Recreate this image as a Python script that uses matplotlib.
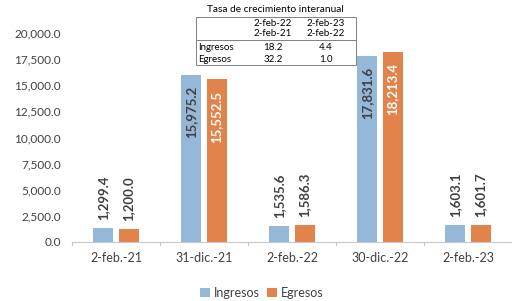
import matplotlib
matplotlib.use("Agg")
import matplotlib.pyplot as plt
from matplotlib.patches import Rectangle
from matplotlib.lines import Line2D
import numpy as np

categories = ["2-feb.-21", "31-dic.-21", "2-feb.-22", "30-dic.-22", "2-feb.-23"]
ingresos = [1299.4, 15975.2, 1535.6, 17831.6, 1603.1]
egresos = [1200.0, 15552.5, 1586.3, 18213.4, 1601.7]
series_names = ["Ingresos", "Egresos"]
yticks = [0, 2500, 5000, 7500, 10000, 12500, 15000, 17500, 20000]

table_title = "Tasa de crecimiento interanual"
table_header1 = ["2-feb-22", "2-feb-23"]
table_header2 = ["2-feb-21", "2-feb-22"]
table_rows = ["Ingresos", "Egresos"]
table_vals = [["18.2", "4.4"], ["32.2", "1.0"]]

plt.rcParams['font.family'] = ['Lato', 'DejaVu Sans']
c_blue = "#95B7D8"
c_orange = "#E2834B"
txt = "#404040"

W, H = 512, 301
fig = plt.figure(figsize=(W/100, H/100), dpi=100)
ax = fig.add_axes([72/W, 1-242/H, (512-72)/W, (242-33)/H])

x = np.arange(len(categories))
bw = 0.225
gap = 0.065
off = (bw + gap) / 2
b1 = ax.bar(x - off, ingresos, bw, color=c_blue, label=series_names[0])
b2 = ax.bar(x + off, egresos, bw, color=c_orange, label=series_names[1])

ax.set_xlim(-0.5, len(categories) - 0.5)
ax.set_ylim(0, 20000)
ax.set_yticks(yticks)
ax.set_yticklabels([f"{v:,.1f}" for v in yticks], fontsize=8.5, color=txt)
ax.set_xticks(x)
ax.set_xticklabels(categories, fontsize=9, color=txt)
ax.tick_params(axis='y', length=0, pad=8)
ax.tick_params(axis='x', length=0, pad=7)
for b in np.arange(-0.5, len(categories), 1.0):
    ax.plot([b, b], [0, -250], color="#C8C8C8", lw=0.8, clip_on=False)
for s in ["top", "right", "left"]:
    ax.spines[s].set_visible(False)
ax.spines["bottom"].set_color("#C8C8C8")
ax.spines["bottom"].set_linewidth(0.8)

def label(bars, vals, inside_color):
    for rect, v in zip(bars, vals):
        cx = rect.get_x() + rect.get_width() / 2
        s = f"{v:,.1f}"
        if v > 10000:
            ax.annotate(s, (cx, v), xytext=(0, -8), textcoords="offset points",
                        rotation=90, ha="center", va="top", fontsize=9.5,
                        fontweight="bold", color=inside_color)
        else:
            ax.annotate(s, (cx, v), xytext=(0, 6), textcoords="offset points",
                        rotation=90, ha="center", va="bottom", fontsize=9.5,
                        fontweight="bold", color=txt)

label(b1, ingresos, txt)
label(b2, egresos, "white")

ax.legend(loc="upper center", bbox_to_anchor=(0.5 - 30/440, -0.16), ncol=2, frameon=False,
          fontsize=9, handlelength=0.8, handleheight=0.8, handletextpad=0.3,
          columnspacing=0.6, labelcolor=txt)

# table
def fx(px): return px / W
def fy(py): return 1 - py / H
fig.text(fx(275), fy(10), table_title, fontsize=7.3, ha="center", va="center", color="black")
L, R, T, B, M = 196, 356, 17, 65, 40
fig.patches.append(Rectangle((fx(L), fy(B)), fx(R) - fx(L), fy(T) - fy(B),
                             transform=fig.transFigure, fill=True, facecolor="white",
                             edgecolor="#808080", lw=0.7))
fig.lines.append(Line2D([fx(L), fx(R)], [fy(M), fy(M)], transform=fig.transFigure,
                        color="#808080", lw=0.7))
cols = [273, 326]
for i, c in enumerate(cols):
    fig.text(fx(c), fy(23), table_header1[i], fontsize=7, ha="center", va="center")
    fig.text(fx(c), fy(34), table_header2[i], fontsize=7, ha="center", va="center")
for r, (name, vals) in enumerate(zip(table_rows, table_vals)):
    yy = 47 + r * 12
    fig.text(fx(198), fy(yy), name, fontsize=7, ha="left", va="center")
    for i, c in enumerate(cols):
        fig.text(fx(c), fy(yy), vals[i], fontsize=7, ha="center", va="center")

fig.savefig("out.png", dpi=100)
